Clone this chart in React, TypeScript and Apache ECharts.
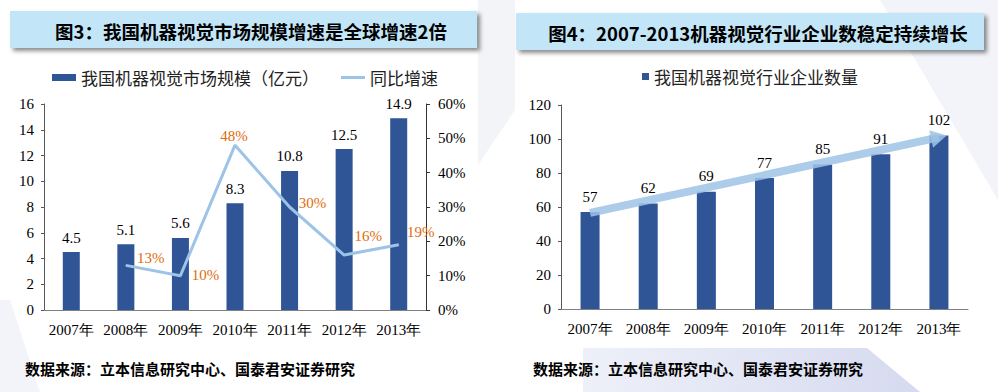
import React, { useEffect, useRef } from "react";
import * as echarts from "echarts";

// ---- data ----
const categories = ["2007年", "2008年", "2009年", "2010年", "2011年", "2012年", "2013年"];
const marketSize = [4.5, 5.1, 5.6, 8.3, 10.8, 12.5, 14.9]; // 亿元
const growthRate: (number | null)[] = [null, 13, 10, 48, 30, 16, 19]; // %
const companyCount = [57, 62, 69, 77, 85, 91, 102];
const trendArrowFrom = 56.5; // value at 2007
const trendArrowTo = 101; // value at 2013

const leftTitle = "图3：我国机器视觉市场规模增速是全球增速2倍";
const rightTitle = "图4：2007-2013机器视觉行业企业数稳定持续增长";
const sourceText = "数据来源：立本信息研究中心、国泰君安证券研究";
const barName1 = "我国机器视觉市场规模（亿元）";
const lineName1 = "同比增速";
const barName2 = "我国机器视觉行业企业数量";

// label offsets (styling) for the growth labels
const growthLabelOffsets: [number, number][] = [
  [0, 0],
  [25, -7],
  [25, -1],
  [-1, -9],
  [23, -4],
  [24, -19],
  [22, -13],
];

const SERIF = "Liberation Serif, Times New Roman, serif";
const CJK = "Noto Sans CJK SC";
const BAR = "#2f5597";
const LINE = "#9dc3e6";
const ORANGE = "#e26b0a";

export default function App() {
  const ref = useRef<HTMLDivElement>(null);
  useEffect(() => {
    if (!ref.current) return;
    const chart = echarts.init(ref.current, undefined, { renderer: "svg" });
    const axisLabel = { fontFamily: SERIF, fontSize: 15, color: "#000" };
    const option: any = {
      animation: false,
      backgroundColor: "#ffffff",
      textStyle: { fontFamily: SERIF },
      graphic: [
        // faint background shapes
        { type: "polygon", z: -10, shape: { points: [[880, 0], [998, 0], [998, 200]] }, style: { fill: "#f3f4f9" } },
        { type: "polygon", z: -10, shape: { points: [[478, 0], [515, 0], [515, 110], [478, 165]] }, style: { fill: "#f3f4f8" } },
        { type: "polygon", z: -10, shape: { points: [[0, 300], [10, 300], [40, 392], [0, 392]] }, style: { fill: "#f2f4f9" } },
        {
          type: "polygon",
          z: -10,
          shape: { points: [[583, 348], [867, 348], [920, 392], [583, 392]] },
          style: {
            fill: new echarts.graphic.LinearGradient(0, 0, 1, 0, [
              { offset: 0, color: "#eef0f9" },
              { offset: 1, color: "#d6daef" },
            ]),
          },
        },
        // title boxes
        {
          type: "rect",
          shape: { x: 10, y: 11, width: 467, height: 37 },
          style: { fill: "#c2e6f7", shadowBlur: 4, shadowOffsetX: 3, shadowOffsetY: 3, shadowColor: "rgba(0,0,0,0.45)" },
        },
        {
          type: "rect",
          shape: { x: 516, y: 13, width: 468, height: 37 },
          style: { fill: "#c2e6f7", shadowBlur: 4, shadowOffsetX: 3, shadowOffsetY: 3, shadowColor: "rgba(0,0,0,0.45)" },
        },
        {
          type: "text",
          x: 251,
          y: 31,
          style: { text: leftTitle, fill: "#000", fontFamily: CJK, fontWeight: "bold", fontSize: 18.5, align: "center", verticalAlign: "middle" },
        },
        {
          type: "text",
          x: 758,
          y: 33,
          style: { text: rightTitle, fill: "#000", fontFamily: CJK, fontWeight: "bold", fontSize: 18.5, align: "center", verticalAlign: "middle" },
        },
        {
          type: "text",
          x: 25,
          y: 368,
          style: { text: sourceText, fill: "#000", fontFamily: CJK, fontWeight: "bold", fontSize: 15, align: "left", verticalAlign: "middle" },
        },
        {
          type: "text",
          x: 533,
          y: 368,
          style: { text: sourceText, fill: "#000", fontFamily: CJK, fontWeight: "bold", fontSize: 15, align: "left", verticalAlign: "middle" },
        },
      ],
      legend: [
        {
          left: 47,
          top: 64,
          itemWidth: 24,
          itemHeight: 7,
          itemGap: 22,
          textStyle: { fontFamily: CJK, fontSize: 17, color: "#222" },
          data: [
            { name: barName1, icon: "rect" },
            { name: lineName1, icon: "path://M0,0 L24,0 L24,3 L0,3 Z" },
          ],
        },
        {
          left: 637,
          top: 63,
          itemWidth: 7,
          itemHeight: 7,
          textStyle: { fontFamily: CJK, fontSize: 17, color: "#222" },
          data: [{ name: barName2, icon: "rect" }],
        },
      ],
      grid: [
        { left: 44, top: 104, width: 382, height: 206, containLabel: false },
        { left: 561, top: 105, width: 407, height: 204, containLabel: false },
      ],
      xAxis: [
        {
          type: "category",
          gridIndex: 0,
          data: categories,
          axisLine: { lineStyle: { color: "#808080" } },
          axisTick: { show: false },
          axisLabel: { ...axisLabel, margin: 12, interval: 0 },
        },
        {
          type: "category",
          gridIndex: 1,
          data: categories,
          axisLine: { lineStyle: { color: "#808080" } },
          axisTick: { show: false },
          axisLabel: { ...axisLabel, margin: 12, interval: 0 },
        },
      ],
      yAxis: [
        {
          type: "value",
          gridIndex: 0,
          min: 0,
          max: 16,
          interval: 2,
          axisLine: { show: true, lineStyle: { color: "#595959" } },
          axisTick: { show: true, length: 3, lineStyle: { color: "#595959" } },
          splitLine: { show: false },
          axisLabel: { ...axisLabel, margin: 10 },
        },
        {
          type: "value",
          gridIndex: 0,
          position: "right",
          min: 0,
          max: 60,
          interval: 10,
          axisLine: { show: true, lineStyle: { color: "#333" } },
          axisTick: { show: true, length: 4, lineStyle: { color: "#333" } },
          splitLine: { show: false },
          axisLabel: { ...axisLabel, margin: 12, formatter: "{value}%" },
        },
        {
          type: "value",
          gridIndex: 1,
          min: 0,
          max: 120,
          interval: 20,
          axisLine: { show: true, lineStyle: { color: "#595959" } },
          axisTick: { show: true, length: 3, lineStyle: { color: "#595959" } },
          splitLine: { show: false },
          axisLabel: { ...axisLabel, margin: 10 },
        },
      ],
      series: [
        {
          name: barName1,
          type: "bar",
          xAxisIndex: 0,
          yAxisIndex: 0,
          barWidth: 17,
          data: marketSize,
          itemStyle: { color: BAR },
          label: { show: true, position: "top", distance: 7, ...axisLabel },
        },
        {
          name: lineName1,
          type: "line",
          xAxisIndex: 0,
          yAxisIndex: 1,
          data: growthRate.map((v, i) => ({
            value: v,
            label: { offset: growthLabelOffsets[i] },
          })),
          symbol: "circle",
          symbolSize: 1,
          itemStyle: { color: LINE },
          lineStyle: { color: LINE, width: 3 },
          label: {
            show: true,
            position: "inside",
            fontFamily: SERIF,
            fontSize: 15,
            color: ORANGE,
            formatter: "{c}%",
          },
          z: 3,
        },
        {
          name: barName2,
          type: "bar",
          xAxisIndex: 1,
          yAxisIndex: 2,
          barWidth: 19,
          data: companyCount,
          itemStyle: { color: BAR },
          label: { show: true, position: "top", distance: 8, ...axisLabel },
          markLine: {
            silent: true,
            symbol: ["none", "triangle"],
            symbolSize: [18, 16],
            label: { show: false },
            lineStyle: { color: "rgba(157,195,230,0.85)", width: 8, type: "solid" },
            emphasis: { disabled: true },
            data: [
              [
                { coord: [0, trendArrowFrom] },
                { coord: [6, trendArrowTo] },
              ],
            ],
          },
        },
      ],
    };
    chart.setOption(option);
    return () => chart.dispose();
  }, []);
  return (
    <div
      ref={ref}
      style={{ position: "absolute", left: 0, top: 0, width: 998, height: 392, background: "#fff" }}
    />
  );
}
